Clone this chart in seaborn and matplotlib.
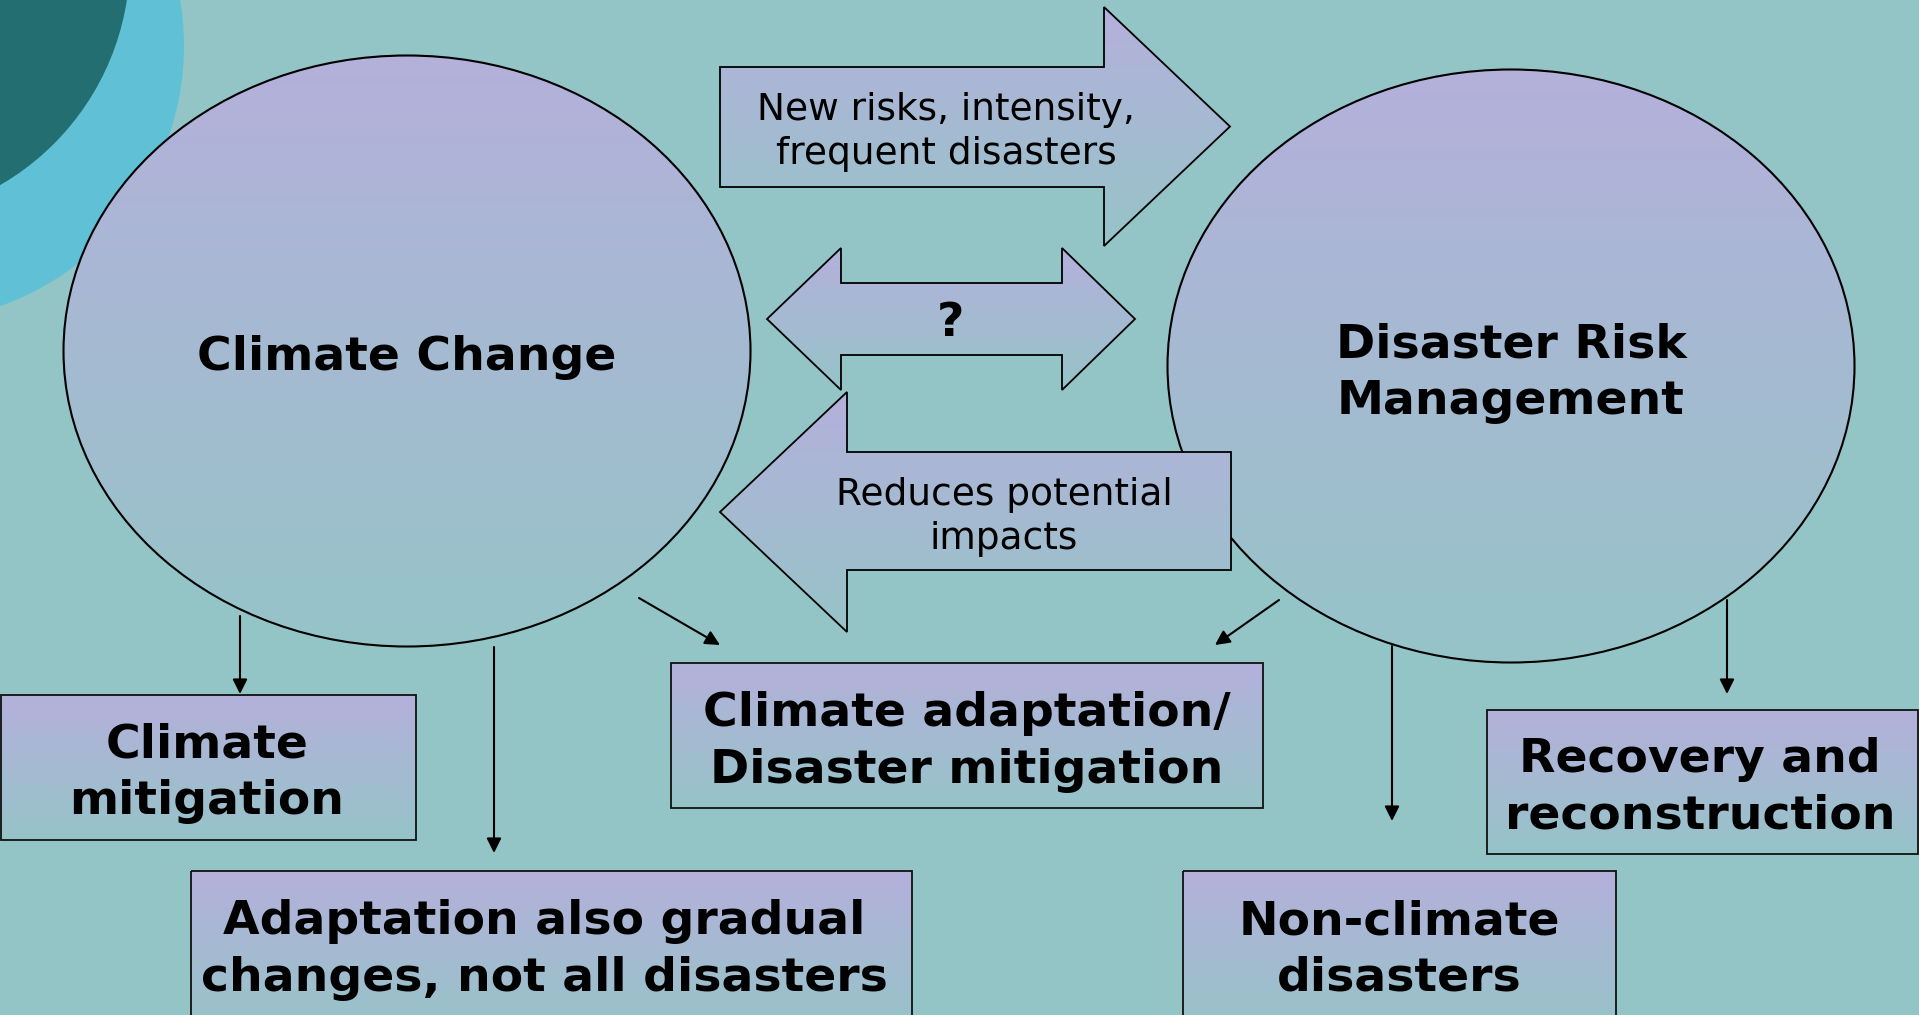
import numpy as np
import matplotlib
matplotlib.use("Agg")
import matplotlib.pyplot as plt
import seaborn as sns
from matplotlib import font_manager as fm
from matplotlib.patches import Ellipse, Circle, Polygon, Rectangle
from matplotlib.colors import LinearSegmentedColormap

sns.set_theme(style="white")
plt.rcParams["font.family"] = ["DejaVu Sans"]
plt.rcParams["text.color"] = "black"

# ---------------- content ----------------
bg_color = "#93C5C6"
grad_top = "#B4B0DB"
grad_bottom = "#96C4C8"

ellipse_labels = ["Climate Change", "Disaster Risk\nManagement"]
ellipse_cx = [407, 1511]
ellipse_cy = [351, 366]
ellipse_w = [687, 687]
ellipse_h = [591, 593]
ellipse_text_y = [358, 373]

box_labels = ["Climate\nmitigation",
              "Adaptation also gradual\nchanges, not all disasters",
              "Climate adaptation/\nDisaster mitigation",
              "Non-climate\ndisasters",
              "Recovery and\nreconstruction"]
box_x0 = [1, 191, 671, 1183, 1487]
box_x1 = [416, 912, 1263, 1616, 1918]
box_y0 = [695, 871, 663, 871, 710]
box_y1 = [840, 1030, 808, 1030, 854]
box_text_x = [207, 544, 967, 1399, 1700]
box_text_y = [773, 950, 742, 950, 788]

arrow_labels = ["New risks, intensity,\nfrequent disasters", "?", "Reduces potential\nimpacts"]
arrow_text_x = [946, 951, 1004]
arrow_text_y = [132, 323, 517]

# thin connector arrows (start -> end)
conn_x0 = [240, 494, 639, 1279, 1392, 1727]
conn_y0 = [616, 647, 598, 600, 646, 600]
conn_x1 = [240, 494, 720, 1215, 1392, 1727]
conn_y1 = [694, 853, 645, 645, 821, 694]

# ---------------- fonts ----------------
fp_bold = fm.FontProperties(family="DejaVu Sans", weight="bold")
fp_reg = fm.FontProperties(family="DejaVu Sans")

# ---------------- figure ----------------
W, H = 1919, 1015
fig = plt.figure(figsize=(W / 100, H / 100), dpi=100, facecolor=bg_color)
ax = fig.add_axes([0, 0, 1, 1])
ax.set_facecolor(bg_color)
ax.set_xlim(0, W)
ax.set_ylim(H, 0)
ax.axis("off")

cmap = LinearSegmentedColormap.from_list("g", sns.blend_palette([grad_top, grad_bottom], 16))
grad = np.linspace(0, 1, 256).reshape(-1, 1)


def gradient_patch(patch, z):
    patch.set_facecolor("none")
    patch.set_zorder(z + 0.1)
    ax.add_patch(patch)
    bb = patch.get_path().transformed(patch.get_patch_transform()).get_extents()
    im = ax.imshow(grad, cmap=cmap, aspect="auto",
                   extent=(bb.x0, bb.x1, bb.y1, bb.y0), zorder=z, interpolation="bilinear")
    im.set_clip_path(patch)


# decorative corner circles
ax.add_patch(Circle((-92, 46), 276, facecolor="#60C1D6", edgecolor="none", zorder=1))
ax.add_patch(Circle((-130, -40), 260, facecolor="#226E71", edgecolor="none", zorder=1.1))

# ellipses
for i in range(2):
    e = Ellipse((ellipse_cx[i], ellipse_cy[i]), ellipse_w[i], ellipse_h[i],
                edgecolor="black", linewidth=1.5)
    gradient_patch(e, 2 + i * 0.01)
    ax.text(ellipse_cx[i], ellipse_text_y[i], ellipse_labels[i], ha="center", va="center",
            fontproperties=fp_bold, fontsize=34, linespacing=1.33, zorder=10,
            color="black")

# block arrows
def one_head_arrow(x0, xb, xt, by0, by1, hy0, hy1):
    yc = (hy0 + hy1) / 2
    return [(x0, by0), (xb, by0), (xb, hy0), (xt, yc), (xb, hy1), (xb, by1), (x0, by1)]

def double_arrow(lt, lb, rb, rt, by0, by1, hy0, hy1):
    yc = (hy0 + hy1) / 2
    return [(lt, yc), (lb, hy0), (lb, by0), (rb, by0), (rb, hy0), (rt, yc),
            (rb, hy1), (rb, by1), (lb, by1), (lb, hy1)]

polys = [one_head_arrow(720, 1104, 1230, 67, 187, 7, 246),
         double_arrow(767, 841, 1062, 1135, 283, 355, 248, 390),
         one_head_arrow(1231, 847, 720, 452, 570, 392, 632)]
for k, pts in enumerate(polys):
    p = Polygon(pts, closed=True, edgecolor="black", linewidth=1.3)
    gradient_patch(p, 3 + k * 0.01)

for k in range(3):
    if arrow_labels[k] == "?":
        ax.text(arrow_text_x[k], arrow_text_y[k], arrow_labels[k], ha="center", va="center",
                fontproperties=fp_bold, fontsize=34, zorder=10, color="black")
    else:
        ax.text(arrow_text_x[k], arrow_text_y[k], arrow_labels[k], ha="center", va="center",
                fontproperties=fp_reg, fontsize=27, linespacing=1.29, zorder=10,
                color="black")

# boxes
for i in range(len(box_labels)):
    r = Rectangle((box_x0[i], box_y0[i]), box_x1[i] - box_x0[i], box_y1[i] - box_y0[i],
                  edgecolor="#111111", linewidth=1.3)
    gradient_patch(r, 4 + i * 0.01)
    ax.text(box_text_x[i], box_text_y[i], box_labels[i], ha="center", va="center",
            fontproperties=fp_bold, fontsize=34, linespacing=1.33, zorder=10,
            color="black")

# connector arrows
for i in range(len(conn_x0)):
    ax.annotate("", xy=(conn_x1[i], conn_y1[i]), xytext=(conn_x0[i], conn_y0[i]),
                arrowprops=dict(arrowstyle="-|>", color="black", lw=1.5,
                                mutation_scale=22, shrinkA=0, shrinkB=0),
                zorder=6)

fig.savefig("out.png", dpi=100, facecolor=bg_color)
